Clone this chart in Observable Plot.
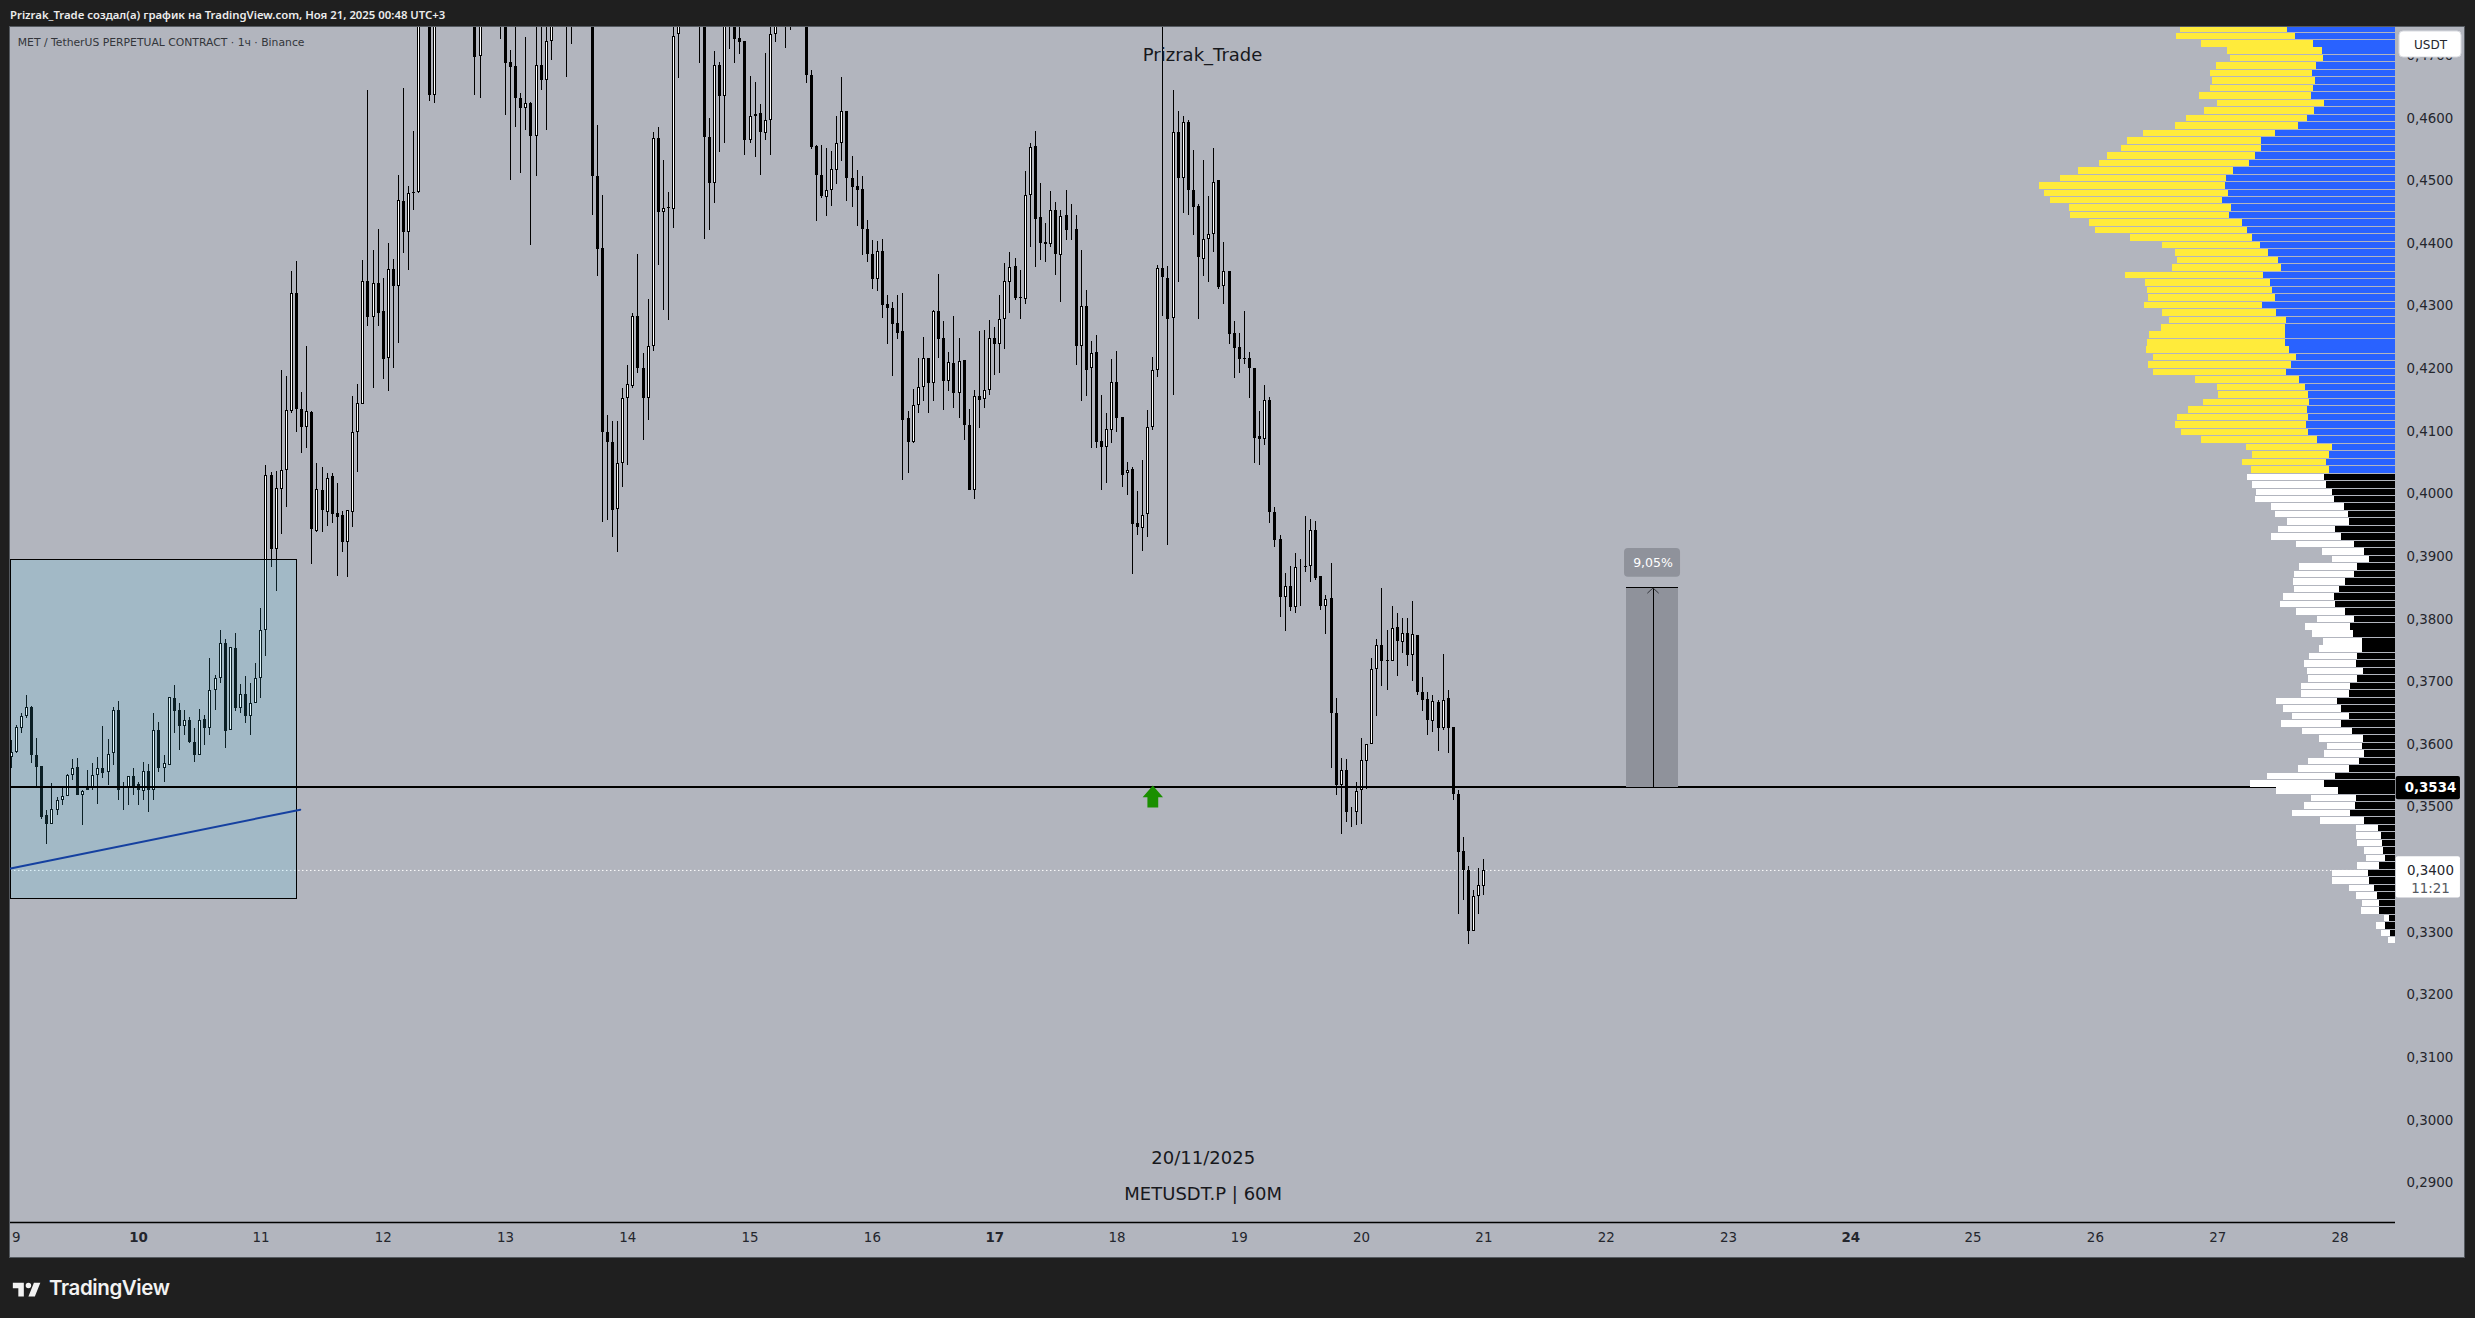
<!DOCTYPE html>
<html><head><meta charset="utf-8">
<script src="https://cdn.jsdelivr.net/npm/d3@7"></script>
<script src="https://cdn.jsdelivr.net/npm/@observablehq/plot@0.6"></script>
<style>
html,body{margin:0;padding:0;background:#1f1f1f;width:2475px;height:1318px;overflow:hidden}
#head{height:27px;padding-left:10px;color:#ececec;font:600 11.35px/30px "Noto Sans",sans-serif;white-space:nowrap;box-sizing:border-box}
#chart svg{display:block;margin-left:10px;background:#b2b5be;outline:1px solid #555a60}
#foot{position:relative;height:61px}
#foot svg{position:absolute;left:11px;top:20px}
#foot span{position:absolute;left:49px;top:16px;color:#f2f2f2;font:600 20.5px/30px "Inter","Noto Sans",sans-serif;letter-spacing:-.4px}
</style></head><body>
<div id="head">Prizrak_Trade создал(а) график на TradingView.com, Ноя 21, 2025 00:48 UTC+3</div>
<div id="chart"></div>
<div id="foot"><svg width="33" height="26" viewBox="0 0 36 28"><path fill="#f2f2f2" d="M14 6H2v6h6v9h6V6zm12 15h-7l6-15h7l-6 15zm-7-9a3 3 0 1 0 0-6 3 3 0 0 0 0 6z"/></svg><span>TradingView</span></div>
<script>
const candleDirection = "UUUUDDDDUUUUUDUUUUDUUDDUDDUDUDUUDDUDDUDUUUDUDUDUUUUDUUUUDDUDUDUDDDUUUUDUDDUDUDUD".split("")
  .concat("U-DU------".split(""), "-DU---DDDD".split(""), "DUDUDUU--D".split(""), "D---DDDDDU".split(""),
    "UUUDDUUDUD".split(""), "UU---DDDUD".split(""), "UDDDDUUDUU".split(""), "U-DD--DDDD".split(""),
    "UUUUDDDDDD".split(""), "UDDDDDDUUU".split(""), "DUDDUDUDDU".split(""), "DUUDUUUDDU".split(""),
    "UDDDUDUDDD".split(""), "UDUDDUUDDU".split(""), "DDUUUUDDUD".split(""), "UDDDUUUDUD".split(""),
    "DDDDDDUDDD".split(""), "UDUDDUDDUD".split(""), "DUDDUUUUUD".split(""), "DUDUDUDDDU".split(""),
    "DUDDDDDUUU".split(""));
const bodyTop = [
.3587,.3627,.3644,.3659,.3659,.3582,.3565,.3486,.3496,.3510,
.3517,.3551,.3561,.3563,.3525,.3529,.3550,.3561,.3561,.3584,
.3654,.3654,.3532,.3549,.3549,.3536,.3557,.3557,.3622,.3622,
.3569,.3675,.3673,.3654,.3638,.3638,.3604,.3638,.3640,.3686,
.3705,.3761,.3761,.3755,.3753,.3680,.3680,.3665,.3705,.3782,
.4029,.4030,.4009,.4037,.4133,.4320,.4320,.4135,.4131,.4130,
.4007,.4005,.4025,.4028,.3969,.3965,.3973,.4098,.4144,.4339,
.4339,.4336,.4336,.4291,.4358,.4358,.4468,.4467,.4480,.4482,
.478,null,.478,.478,null,null,null,null,null,null,
null,.478,.478,null,null,null,.478,.478,.4689,.4683,
.4632,.4624,.4624,.4684,.4684,.4722,.478,null,null,.478,
.478,null,null,null,.478,.4507,.4392,.4099,.4082,.4048,
.4152,.4175,.4283,.4284,.4200,.4235,.4567,.4568,.4456,.4457,
.4731,.478,null,null,null,.478,.478,.4570,.4684,.4684,
.478,.478,.478,.4727,.4722,.4602,.4606,.4607,.4596,.4734,
.478,null,.478,.478,null,null,.478,.4668,.4555,.4509,
.4484,.4518,.4559,.4610,.4611,.4503,.4491,.4486,.4423,.4383,
.4387,.4388,.4302,.4296,.4272,.4260,.4120,.4141,.4170,.4216,
.4216,.4291,.4291,.4248,.4210,.4208,.4211,.4213,.4109,.4155,
.4156,.4166,.4248,.4248,.4278,.4339,.4361,.4363,.4313,.4476,
.4554,.4555,.4441,.4401,.4452,.4452,.4443,.4445,.4422,.4422,
.4299,.4299,.4224,.4226,.4084,.4103,.4178,.4178,.4122,.4037,
.4039,.3953,.3966,.4106,.4198,.4360,.4360,.4344,.4578,.4578,
.4593,.4593,.4484,.4459,.4407,.4415,.4498,.4500,.4356,.4356,
.4256,.4234,.4216,.4216,.4201,.4092,.4149,.4149,.3970,.3927,
.3852,.3852,.3882,.3884,.3885,.3941,.3942,.3868,.3831,.3833,
.3650,.3558,.3558,.3491,.3525,.3574,.3600,.3719,.3758,.3758,
.3734,.3786,.3787,.3777,.3777,.3775,.3774,.3683,.3672,.3668,
.3667,.3671,.3673,.3627,.3520,.3429,.3399,.3357,.3375,.3399];
const bodyBottom = [
.3580,.3588,.3626,.3644,.3582,.3564,.3484,.3473,.3473,.3495,
.3510,.3517,.3550,.3518,.3518,.3526,.3532,.3550,.3553,.3556,
.3585,.3527,.3529,.3532,.3532,.3526,.3525,.3526,.3526,.3561,
.3561,.3567,.3652,.3628,.3628,.3603,.3582,.3582,.3625,.3625,
.3686,.3705,.3621,.3622,.3657,.3657,.3645,.3645,.3665,.3705,
.3782,.3911,.3912,.4007,.4037,.4131,.4135,.4107,.4107,.3943,
.3940,.3973,.3971,.3968,.3962,.3923,.3923,.3971,.4098,.4143,
.4282,.4282,.4289,.4214,.4216,.4332,.4331,.4418,.4418,.4480,
.4482,null,.4637,.4637,null,null,null,null,null,null,
null,.4697,.4699,null,null,null,.477,.4688,.4681,.4631,
.4615,.4615,.4571,.4571,.4661,.4661,.4723,null,null,.477,
.477,null,null,null,.4507,.4391,.4099,.4082,.3973,.3975,
.4048,.4152,.4171,.4200,.4152,.4152,.4235,.4450,.4449,.4456,
.4455,.4733,null,null,null,.477,.4570,.4496,.4496,.4635,
.4635,.477,.4726,.4721,.4565,.4565,.4602,.4578,.4576,.4596,
.4733,null,.477,.477,null,null,.4668,.4553,.4508,.4475,
.4474,.4484,.4516,.4559,.4503,.4490,.4485,.4423,.4383,.4343,
.4343,.4301,.4296,.4271,.4257,.4118,.4083,.4083,.4141,.4170,
.4176,.4176,.4247,.4180,.4180,.4161,.4160,.4109,.4006,.4005,
.4150,.4151,.4166,.4239,.4239,.4278,.4337,.4312,.4312,.4311,
.4476,.4439,.4400,.4399,.4399,.4383,.4381,.4421,.4422,.4236,
.4236,.4198,.4200,.4083,.4075,.4075,.4101,.4121,.4030,.4032,
.3952,.3946,.3945,.3967,.4107,.4198,.4345,.4278,.4280,.4503,
.4503,.4484,.4458,.4377,.4375,.4406,.4414,.4330,.4331,.4255,
.4233,.4215,.4214,.4201,.4089,.4087,.4087,.3971,.3926,.3835,
.3835,.3819,.3818,.3884,.3883,.3885,.3865,.3821,.3821,.3649,
.3535,.3535,.3491,.3491,.3491,.3526,.3573,.3600,.3719,.3733,
.3732,.3732,.3764,.3763,.3742,.3742,.3683,.3671,.3639,.3637,
.3625,.3626,.3626,.3521,.3428,.3399,.3302,.3301,.3357,.3374];
const wickHigh = [
.3607,.3630,.3649,.3678,.3661,.3610,.3565,.3494,.3538,.3516,
.3531,.3552,.3576,.3577,.3527,.3559,.3570,.3579,.3629,.3608,
.3659,.3669,.3539,.3549,.3562,.3540,.3572,.3568,.3650,.3635,
.3583,.3675,.3694,.3666,.3654,.3643,.3626,.3656,.3647,.3737,
.3710,.3782,.3768,.3755,.3777,.3696,.3709,.3698,.3730,.3817,
.4045,.4035,.4036,.4197,.4188,.4355,.4371,.4162,.4236,.4131,
.4049,.4042,.4033,.4033,.4017,.3972,.3973,.4156,.4175,.4373,
.4644,.4389,.4423,.4344,.4400,.4374,.4509,.4648,.4491,.4579,
.48,null,.48,.48,null,null,null,null,null,null,
null,.48,.48,null,null,null,.48,.48,.4708,.476,
.4639,.4729,.4625,.476,.476,.4745,.48,null,null,.48,
.48,null,null,null,.48,.4588,.4477,.4126,.4116,.4115,
.4169,.4205,.4289,.4383,.4225,.4310,.4578,.4586,.4533,.4481,
.476,.48,null,null,null,.48,.48,.4600,.4706,.4689,
.48,.48,.48,.476,.4722,.4667,.4657,.4622,.4704,.476,
.48,null,.48,.48,null,null,.48,.4677,.4556,.4556,
.4552,.4547,.4602,.4665,.4611,.4539,.4517,.4507,.4437,.4405,
.4403,.4406,.4317,.4306,.4317,.4320,.4131,.4167,.4216,.4250,
.4216,.4293,.4351,.4276,.4226,.4284,.4248,.4213,.4135,.4165,
.4260,.4261,.4277,.4266,.4317,.4368,.4386,.4376,.4357,.4515,
.4560,.4579,.4496,.4432,.4483,.4465,.4453,.4485,.4462,.4445,
.4389,.4325,.4244,.4253,.4157,.4129,.4214,.4227,.4122,.4050,
.4042,.4004,.4054,.4133,.4218,.4365,.48,.4363,.4644,.4611,
.4602,.4596,.4548,.4462,.4533,.4475,.4552,.4500,.4402,.4356,
.4275,.4257,.4292,.4226,.4201,.4132,.4173,.4154,.3978,.3933,
.3873,.3884,.3905,.3895,.3964,.3959,.3956,.3868,.3838,.3889,
.3674,.3578,.3576,.3499,.3540,.3610,.3600,.3737,.3767,.3849,
.3782,.3820,.3809,.3801,.3801,.3828,.3774,.3707,.3683,.3678,
.3670,.3744,.3686,.3627,.3527,.3452,.3406,.3367,.3402,.3417];
const wickLow = [
.3562,.3586,.3618,.3642,.3570,.3529,.3480,.3440,.3473,.3487,
.3502,.3517,.3542,.3518,.3470,.3526,.3527,.3505,.3545,.3535,
.3566,.3510,.3494,.3503,.3518,.3503,.3511,.3492,.3510,.3556,
.3540,.3566,.3618,.3591,.3614,.3602,.3572,.3582,.3598,.3615,
.3655,.3698,.3593,.3622,.3653,.3650,.3634,.3614,.3665,.3673,
.3741,.3882,.3845,.3935,.3979,.4128,.4099,.4065,.4073,.3888,
.3938,.3938,.3948,.3953,.3869,.3907,.3866,.3947,.4035,.4143,
.4268,.4169,.4268,.4183,.4164,.4201,.4241,.4384,.4357,.4453,
.4480,null,.4627,.4623,null,null,null,null,null,null,
null,.4636,.4632,null,null,null,.4726,.4605,.4501,.4586,
.4511,.4581,.4397,.4507,.4644,.4581,.4693,null,null,.4665,
.4717,null,null,null,.4444,.4348,.3955,.3957,.3930,.3907,
.4011,.4045,.4169,.4193,.4086,.4117,.4228,.4365,.4293,.4277,
.4424,.4664,null,null,null,.4688,.4407,.4420,.4464,.4546,
.4560,.4709,.4688,.4701,.4541,.4560,.4538,.4508,.4564,.4541,
.4721,null,.4712,.4740,null,null,.4656,.4550,.4435,.4472,
.4443,.4459,.4494,.4531,.4467,.4458,.4427,.4381,.4369,.4326,
.4324,.4281,.4238,.4187,.4247,.4021,.4032,.4081,.4129,.4148,
.4129,.4148,.4217,.4134,.4164,.4136,.4120,.4085,.4005,.3992,
.4104,.4137,.4158,.4190,.4193,.4231,.4289,.4309,.4278,.4303,
.4394,.4361,.4373,.4369,.4393,.4349,.4305,.4405,.4405,.4206,
.4148,.4156,.4073,.4073,.4005,.4016,.4081,.4099,.4011,.3998,
.3871,.3933,.3909,.3930,.4102,.4186,.4283,.3917,.4158,.4337,
.4448,.4444,.4412,.4278,.4348,.4338,.4386,.4326,.4302,.4238,
.4185,.4193,.4207,.4153,.4049,.4045,.4077,.3953,.3914,.3803,
.3781,.3813,.3810,.3820,.3874,.3858,.3862,.3814,.3776,.3562,
.3519,.3457,.3475,.3468,.3470,.3473,.3528,.3600,.3645,.3693,
.3686,.3732,.3709,.3746,.3725,.3701,.3678,.3653,.3615,.3619,
.3589,.3622,.3586,.3510,.3328,.3351,.3280,.3301,.3328,.3359];

const profilePrice = [
.47428,.47309,.47189,.47070,.46951,.46831,.46712,.46593,.46473,.46354,
.46235,.46115,.45996,.45876,.45757,.45638,.45518,.45399,.45280,.45160,
.45041,.44922,.44802,.44683,.44564,.44444,.44325,.44205,.44086,.43967,
.43847,.43728,.43609,.43489,.43370,.43251,.43131,.43012,.42893,.42773,
.42654,.42535,.42415,.42296,.42177,.42057,.41938,.41819,.41699,.41580,
.41460,.41341,.41222,.41102,.40983,.40864,.40744,.40625,.40506,.40386,
.40267,.40148,.40028,.39909,.39790,.39670,.39551,.39432,.39312,.39193,
.39073,.38954,.38835,.38715,.38596,.38477,.38357,.38238,.38119,.37999,
.37880,.37761,.37641,.37522,.37402,.37283,.37164,.37044,.36925,.36806,
.36686,.36567,.36448,.36328,.36209,.36090,.35970,.35851,.35731,.35612,
.35493,.35373,.35254,.35135,.35015,.34896,.34777,.34657,.34538,.34419,
.34299,.34180,.34060,.33941,.33822,.33702,.33583,.33464,.33344,.33225,
.33106,.32986,.32867];
const profileUp = [
108,100,82,73,72,79,83,80,82,84,71,81,88,97,120,134,134,140,146,162,
169,170,167,173,164,166,153,148,143,135,127,117,114,132,125,123,120,133,119,109,
110,110,110,106,99,104,109,96,90,87,86,88,87,89,87,78,63,66,69,66,
71,69,63,61,51,47,46,60,54,41,31,26,38,41,50,56,61,60,50,41,
45,42,33,33,38,39,32,38,45,46,58,54,46,54,43,32,33,31,36,46,
60,71,57,39,40,45,31,17,14,13,12,10,16,27,26,21,18,16,16,6,
10,5,0];
const profileDown = [
107,119,112,95,93,100,102,103,103,112,107,110,121,123,132,134,140,148,150,155,
166,186,184,172,162,159,153,152,122,98,93,101,109,138,125,125,127,118,114,117,
124,136,138,143,143,143,133,104,88,90,106,119,131,131,127,116,86,77,84,78,
77,74,76,79,73,73,62,57,70,58,42,37,58,60,52,45,51,55,49,37,
45,41,39,43,48,52,56,49,49,48,61,58,57,60,50,44,35,40,51,51,
68,74,62,45,51,58,44,22,25,25,19,19,22,36,37,25,21,17,18,5,
9,9,7];

const dayTicks = [9,11,12,13,14,15,16,18,19,20,21,22,23,25,26,27,28];
const weekTicks = [10,17,24];
const priceTicks = [.29,.30,.31,.32,.33,.34,.35,.36,.37,.38,.39,.40,.41,.42,.43,.44,.45,.46,.47];
const dayDomain = [8.9526, 28.454];
const priceDomain = [.28368, .47449];
const keyLevel = .3532, keyLabel = "0,3534";
const lastPrice = .3399, lastLabel = "0,3400", countdown = "11:21";
const valueAreaLow = .4033;
const volumePerDay = 122.3;
const measure = {d1:22.167, d2:22.592, mid:22.383, top:.3850, label:"9,05%"};

const ink = "#000";
const rows = bodyTop.map((t,i)=>({x:9+(i-1)/24, top:t, bottom:bodyBottom[i], hi:wickHigh[i], lo:wickLow[i], dir:candleDirection[i]})).filter(d=>d.top!=null);
const ups = rows.filter(d=>d.dir==="U");
const profile = profilePrice.map((p,i)=>({p, up:profileUp[i], down:profileDown[i], va:p>=valueAreaLow}));
const fmt = d=>d.toFixed(4).replace(".",",");
const right = dayDomain[1];
const crisp = {shapeRendering:"crispEdges"};
const arrowSymbol = {draw(c){c.moveTo(0,-11.7);c.lineTo(10.2,0);c.lineTo(5.4,0);c.lineTo(5.4,10.3);c.lineTo(-5.4,10.3);c.lineTo(-5.4,0);c.lineTo(-10.2,0);c.closePath();}};

const chart = Plot.plot({
  width:2454, height:1230, marginLeft:0, marginRight:69, marginTop:0, marginBottom:35,
  style:{fontFamily:"'DejaVu Sans',sans-serif",background:"#b2b5be",color:"#24262d",overflow:"visible"},
  x:{type:"linear",domain:dayDomain,range:[0,2385],axis:null},
  y:{type:"linear",domain:priceDomain,range:[1195,0],axis:null},
  marks:[
    Plot.axisY({anchor:"right",ticks:priceTicks,tickSize:0,tickPadding:11,tickFormat:fmt,fontSize:13.4,label:null}),
    Plot.axisX({anchor:"bottom",ticks:dayTicks,tickSize:0,tickPadding:10,tickFormat:d=>String(d),fontSize:13.4,label:null}),
    Plot.axisX({anchor:"bottom",ticks:weekTicks,tickSize:0,tickPadding:10,tickFormat:d=>String(d),fontSize:13.4,fontWeight:"bold",label:null}),
    Plot.ruleY([priceDomain[0]],{stroke:ink,strokeWidth:1.5}),
    Plot.ruleY([lastPrice],{stroke:"#fff",strokeWidth:1,strokeDasharray:"1.5 2.5"}),
    Plot.ruleX(rows,{x:"x",y1:"lo",y2:"hi",stroke:ink,strokeWidth:1,clip:true,...crisp}),
    Plot.ruleX(rows,{x:"x",y1:"top",y2:"bottom",stroke:ink,strokeWidth:3,clip:true,...crisp}),
    Plot.ruleX(ups,{x:"x",y1:"top",y2:"bottom",stroke:"#fff",strokeWidth:1,insetTop:1,insetBottom:1,clip:true,...crisp}),
    Plot.rect([{x1:dayDomain[0],x2:11.294,y1:.3353,y2:.3895}],{x1:"x1",x2:"x2",y1:"y1",y2:"y2",fill:"rgb(71,205,245)",fillOpacity:.15,stroke:ink,strokeWidth:1,clip:true,...crisp}),
    Plot.line([{d:dayDomain[0],p:.3402},{d:11.322,p:.3496}],{x:"d",y:"p",stroke:"#1540a0",strokeWidth:2}),
    Plot.ruleY([keyLevel],{stroke:ink,strokeWidth:2,...crisp}),
    Plot.rect([measure],{x1:"d1",x2:"d2",y1:keyLevel,y2:"top",fill:"#8f929b",...crisp}),
    Plot.ruleY([measure.top],{x1:measure.d1,x2:measure.d2,stroke:ink,strokeWidth:1,...crisp}),
    Plot.ruleX([measure.mid],{y1:keyLevel,y2:measure.top,stroke:ink,strokeWidth:1,...crisp}),
    Plot.line([{d:measure.mid-.044,p:.3842},{d:measure.mid,p:.3850},{d:measure.mid+.044,p:.3842}],{x:"d",y:"p",stroke:"#33353b",strokeWidth:1}),
    Plot.rect([measure],{x1:22.150,x2:22.608,y1:.3867,y2:.3913,fill:"#8f929b",rx:4}),
    Plot.text([measure],{x:"mid",y:.3890,text:"label",fill:"#fff",fontSize:12.5}),
    Plot.dot([{d:18.293,p:.3516}],{x:"d",y:"p",symbol:arrowSymbol,r:1,fill:"#1a8f00",stroke:"none"}),
    Plot.rect(profile,{x1:d=>right-d.up/volumePerDay,x2:right,y1:d=>d.p-.00052,y2:d=>d.p+.00052,fill:d=>d.va?"#2962ff":"#000",clip:true,...crisp}),
    Plot.rect(profile,{x1:d=>right-(d.up+d.down)/volumePerDay,x2:d=>right-d.up/volumePerDay,y1:d=>d.p-.00052,y2:d=>d.p+.00052,fill:d=>d.va?"#ffeb3b":"#fff",clip:true,...crisp}),
    Plot.text(["MET / TetherUS PERPETUAL CONTRACT · 1ч · Binance"],{x:9.012,y:.4721,text:d=>d,textAnchor:"start",fontSize:10.8,fill:"#33353b"}),
    Plot.text(["Prizrak_Trade"],{x:18.700,y:.4700,text:d=>d,fontSize:18,fill:"#17181c"}),
    Plot.text(["20/11/2025"],{x:18.705,y:.2939,text:d=>d,fontSize:18,fill:"#17181c"}),
    Plot.text(["METUSDT.P | 60M"],{x:18.705,y:.2882,text:d=>d,fontSize:18,fill:"#17181c"}),
    Plot.rect([0],{x1:28.487,x2:28.994,y1:.4697,y2:.47385,fill:"#fff",stroke:"#d8dae0",rx:4}),
    Plot.text(["USDT"],{x:28.74,y:.4717,text:d=>d,fontSize:12,fill:"#24262d"}),
    Plot.rect([0],{x1:28.46,x2:28.985,y1:.3512,y2:.3549,fill:"#000",rx:2}),
    Plot.text([keyLabel],{x:28.74,y:.35314,text:d=>d,fontSize:13.4,fontWeight:"bold",fill:"#fff"}),
    Plot.rect([0],{x1:28.46,x2:28.985,y1:.3355,y2:.3421,fill:"#fff",rx:2}),
    Plot.text([lastLabel],{x:28.74,y:.3399,text:d=>d,fontSize:13.4,fill:"#24262d"}),
    Plot.text([countdown],{x:28.74,y:.3369,text:d=>d,fontSize:13.4,fill:"#55585f"})
  ]
});
document.getElementById("chart").append(chart);
</script>
</body></html>
